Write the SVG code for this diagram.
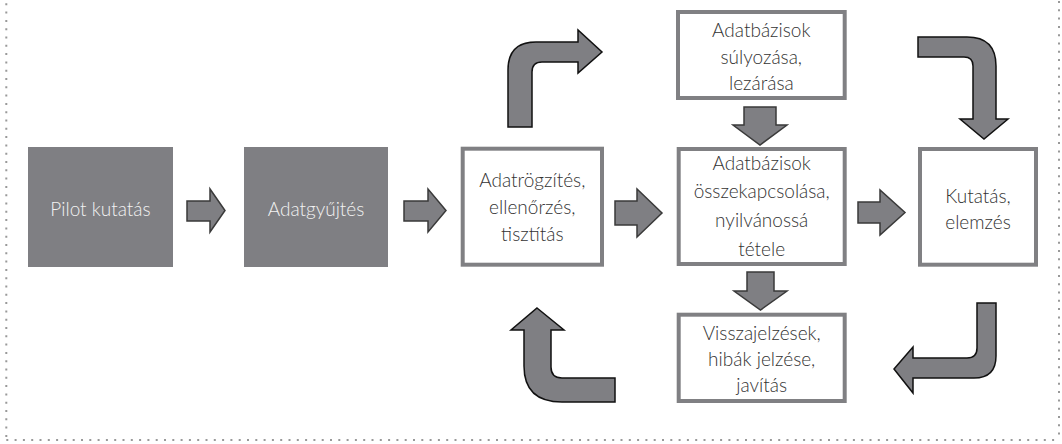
<svg xmlns="http://www.w3.org/2000/svg" width="1062" height="444" viewBox="0 0 1062 444">
<style>
.bg{fill:#ffffff}
.border{fill:none;stroke:#999999;stroke-width:2;stroke-dasharray:2 6.3}
.solid{fill:#7f7f83}
.box{fill:#ffffff;stroke:#808083;stroke-width:4}
.t{font-family:Lato,"Liberation Sans",sans-serif;font-weight:300;font-size:19px;text-anchor:middle;fill:#333333}
.tw{font-family:Lato,"Liberation Sans",sans-serif;font-weight:300;font-size:19px;text-anchor:middle;fill:#f2f2f2}
.arr{fill:#7f7f83;stroke:#3a3a3a;stroke-width:1.5;stroke-linejoin:miter}
.bend{fill:#7f7f83;stroke:#111111;stroke-width:1.5;stroke-linejoin:miter}
</style>
<rect class="bg" x="0" y="0" width="1062" height="444"/>
<g id="frame">
<line class="border" x1="6.3" y1="3.3" x2="6.3" y2="440"/>
<line class="border" x1="6.3" y1="440" x2="1059" y2="440"/>
<line class="border" x1="1059" y1="1" x2="1059" y2="440"/>
</g>
<g id="pilot">
<rect class="solid" x="28" y="147" width="145" height="120"/>
<text class="tw" x="100.5" y="216">Pilot kutatás</text>
</g>
<g id="adatgyujtes">
<rect class="solid" x="244" y="147" width="144" height="120"/>
<text class="tw" x="316" y="216">Adatgyűjtés</text>
</g>
<g id="adatrogzites">
<rect class="box" x="462.7" y="148.7" width="139.3" height="116"/>
<text class="t" x="532.3" y="187">Adatrögzítés,</text>
<text class="t" x="532.3" y="214">ellenőrzés,</text>
<text class="t" x="532.3" y="241">tisztítás</text>
</g>
<g id="osszekapcsolas">
<rect class="box" x="678.7" y="149" width="166" height="115"/>
<text class="t" x="761.7" y="170">Adatbázisok</text>
<text class="t" x="761.7" y="198">összekapcsolása,</text>
<text class="t" x="761.7" y="227">nyilvánossá</text>
<text class="t" x="761.7" y="256">tétele</text>
</g>
<g id="sulyozas">
<rect class="box" x="678" y="12" width="166.7" height="86"/>
<text class="t" x="761.3" y="37">Adatbázisok</text>
<text class="t" x="761.3" y="64">súlyozása,</text>
<text class="t" x="761.3" y="90">lezárása</text>
</g>
<g id="visszajelzes">
<rect class="box" x="678.7" y="314.7" width="166" height="86.3"/>
<text class="t" x="761.7" y="340">Visszajelzések,</text>
<text class="t" x="761.7" y="366">hibák jelzése,</text>
<text class="t" x="761.7" y="392">javítás</text>
</g>
<g id="kutatas">
<rect class="box" x="920" y="149" width="116" height="115.7"/>
<text class="t" x="978" y="203">Kutatás,</text>
<text class="t" x="978" y="229">elemzés</text>
</g>
<g id="connectors">
<path class="arr" d="M187,201 H210 V189 L225,210.5 L210,232 V221 H187 Z"/>
<path class="arr" d="M404,201 H428 V189 L446,210.5 L428,232 V221 H404 Z"/>
<path class="arr" d="M615,201 H637 V189 L662,213 L637,237 V225 H615 Z"/>
<path class="arr" d="M858,202 H880 V190 L905,212.5 L880,235 V223 H858 Z"/>
<path class="arr" d="M744,107 H776 V125 H787 L760,145 L733,125 H744 Z"/>
<path class="arr" d="M747,272 H774 V291 H787 L760.5,310 L734,291 H747 Z"/>
<path class="bend" d="M508,127 L508,70 Q508,42 536,42 L578,42 L578,30 L602,52 L578,73 L578,62 L542,62 Q532,62 532,72 L532,127 Z"/>
<path class="bend" d="M918,37 L967,37 Q996,37 996,66 L996,119 L1008,119 L984,139 L960,119 L973,119 L973,66 Q973,57 964,57 L918,57 Z"/>
<path class="bend" d="M537,308 L564,330 L551,330 L551,367 Q551,378 562,378 L615,378 L615,402 L562,402 Q524,402 524,366 L524,330 L511,330 Z"/>
<path class="bend" d="M977,303 L996,303 L996,356 Q996,378 974,378 L913,378 L913,393 L894,369 L913,347 L913,358 L967,358 Q977,358 977,348 Z"/>
</g>
</svg>
